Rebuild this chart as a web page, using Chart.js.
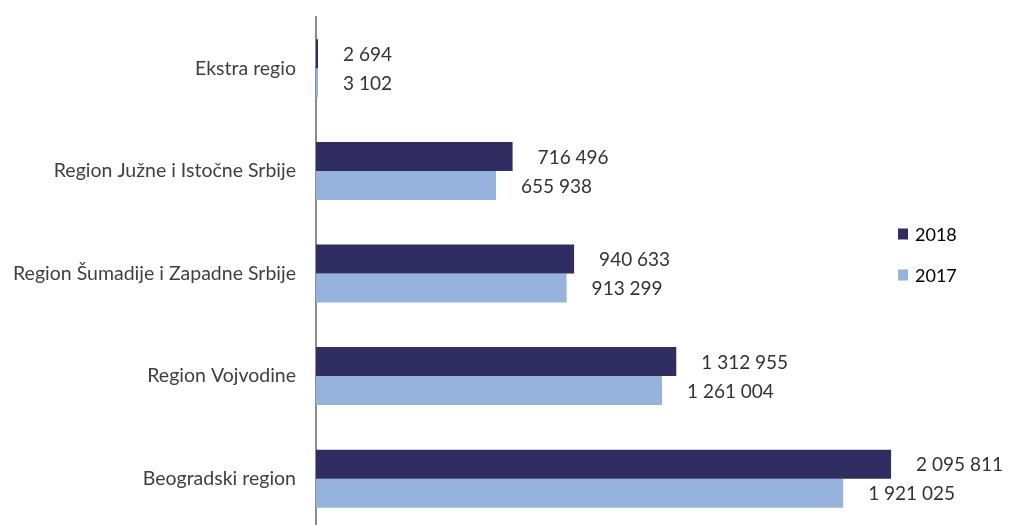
<html>
<head>
    <meta charset="utf-8">
    <title>Regioni 2017-2018</title>
    <script src="https://cdn.jsdelivr.net/npm/chart.js"></script>
    <style>
        body { margin: 0; overflow: hidden; background: #ffffff; }
    </style>
</head>
<body>
    <canvas id="region_chart" width="1009" height="530"></canvas>

    <script>
        const regions = [
            "Ekstra regio",
            "Region Južne i Istočne Srbije",
            "Region Šumadije i Zapadne Srbije",
            "Region Vojvodine",
            "Beogradski region"
        ];
        const values_2018 = [2694, 716496, 940633, 1312955, 2095811];
        const values_2017 = [3102, 655938, 913299, 1261004, 1921025];
        const series_names = ["2018", "2017"];
        const colors = ["#302d62", "#95b3dd"];

        const font_family = "Lato, 'Open Sans', sans-serif";

        function fmt(n) {
            return String(n).replace(/\B(?=(\d{3})+(?!\d))/g, " ");
        }

        // numbers written to the right of each bar
        const value_labels = {
            id: "value_labels",
            afterDatasetsDraw(chart) {
                const ctx = chart.ctx;
                ctx.save();
                ctx.font = "19px " + font_family;
                ctx.fillStyle = "#333333";
                ctx.textBaseline = "middle";
                ctx.textAlign = "left";
                chart.data.datasets.forEach((ds, i) => {
                    chart.getDatasetMeta(i).data.forEach((bar, j) => {
                        ctx.fillText(fmt(ds.data[j]), bar.x + 25, bar.y + 1);
                    });
                });
                ctx.restore();
            }
        };

        // small legend on the right side
        const side_legend = {
            id: "side_legend",
            afterDraw(chart) {
                const ctx = chart.ctx;
                ctx.save();
                ctx.font = "18px " + font_family;
                ctx.textBaseline = "middle";
                ctx.textAlign = "left";
                series_names.forEach((name, i) => {
                    const y = 234 + i * 41;
                    ctx.fillStyle = colors[i];
                    ctx.fillRect(898, y - 5.5, 10, 11);
                    ctx.fillStyle = "#000000";
                    ctx.fillText(name, 915, y + 1);
                });
                ctx.restore();
            }
        };

        const ctx = document.getElementById("region_chart").getContext("2d");
        new Chart(ctx, {
            type: "bar",
            data: {
                labels: regions,
                datasets: [
                    { label: series_names[0], data: values_2018, backgroundColor: colors[0] },
                    { label: series_names[1], data: values_2017, backgroundColor: colors[1] }
                ]
            },
            options: {
                indexAxis: "y",
                responsive: false,
                animation: false,
                layout: { padding: { top: 17, right: 7, bottom: 0, left: 0 } },
                datasets: {
                    bar: { categoryPercentage: 0.565, barPercentage: 1.0, minBarLength: 2 }
                },
                plugins: {
                    legend: { display: false },
                    tooltip: { enabled: false }
                },
                scales: {
                    x: {
                        display: false,
                        min: 0,
                        max: 2500000
                    },
                    y: {
                        grid: { display: false, drawTicks: false },
                        border: { display: true, color: "#8c8c8c", width: 2 },
                        ticks: {
                            color: "#404040",
                            padding: 20,
                            font: { family: font_family, size: 19.5 }
                        },
                        afterFit(scale) {
                            scale.width = 316;
                            scale.paddingTop = 0;
                            scale.paddingBottom = 0;
                        }
                    }
                }
            },
            plugins: [value_labels, side_legend]
        });
    </script>
</body>
</html>
